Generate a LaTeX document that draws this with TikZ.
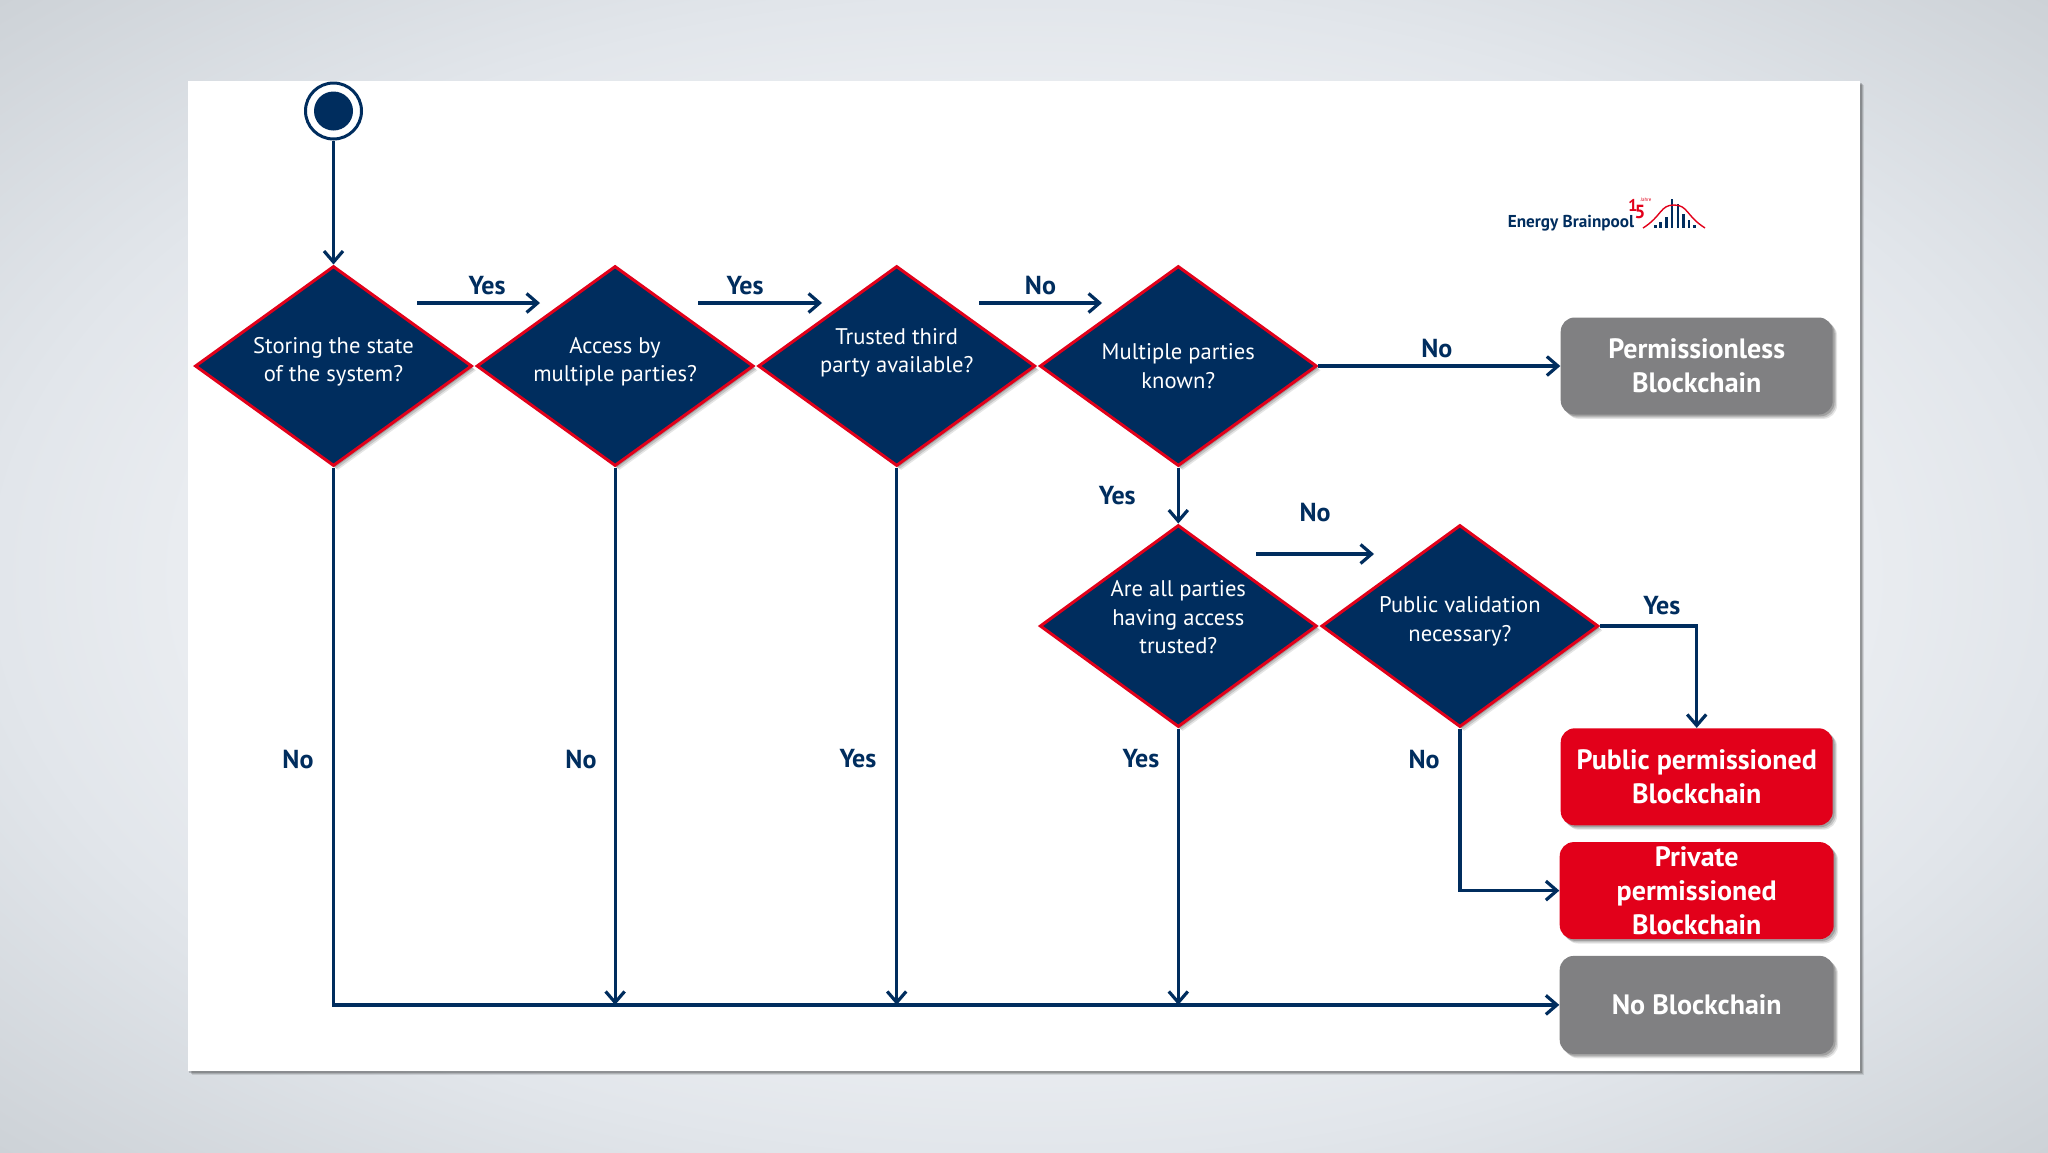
\documentclass[tikz,border=0pt]{standalone}
\usepackage{fontspec}
\setmainfont{PT Sans}
\usetikzlibrary{arrows.meta, positioning, shapes.geometric, shadows}
\definecolor{brainnavy}{RGB}{0,45,94}
\definecolor{brainred}{RGB}{226,0,26}
\definecolor{braingrey}{RGB}{128,128,130}
\definecolor{slidemid}{RGB}{246,247,249}
\definecolor{slidetop}{RGB}{226,230,235}
\definecolor{slideedge}{RGB}{205,210,215}
\pgfdeclareradialshading{slideback}{\pgfpoint{0bp}{0bp}}{color(0bp)=(slidemid); color(12.5bp)=(slidemid); color(25bp)=(slidetop); color(35.4bp)=(slideedge); color(100bp)=(slideedge)}
\newcommand{\lifted}[1]{\rule[-#1]{0pt}{#1}}

\begin{document}
\begin{tikzpicture}[
  softshadow/.style={general shadow={shadow xshift=2.2pt, shadow yshift=-2.2pt, fill=black, opacity=.1},
                     general shadow={shadow xshift=1.6pt, shadow yshift=-1.6pt, fill=black, opacity=.14},
                     general shadow={shadow xshift=.9pt, shadow yshift=-.9pt, fill=black, opacity=.18}},
  question/.style={diamond, aspect=1.385, draw=brainred, fill=brainnavy, line width=1.5pt,
                   minimum width=138.5pt, minimum height=100pt, inner sep=0pt,
                   text=white, font=\fontsize{11.3}{14.2}\selectfont, align=center, softshadow},
  result/.style={rectangle, rounded corners=7pt, minimum width=136pt, minimum height=48.5pt,
                 inner sep=0pt, text=white, align=center,
                 font=\fontsize{14}{17}\selectfont\bfseries, softshadow},
  arrow/.style={-{Straight Barb[length=5.5pt, width=9.5pt]}, brainnavy, line width=1.6pt},
  answer/.style={text=brainnavy, font=\fontsize{13}{15}\selectfont\bfseries, inner sep=0pt}
]
\useasboundingbox (0,0) rectangle (1024pt,-576pt);
\shade[shading=slideback] (0,0) rectangle (1024pt,-576pt);
\fill[white, softshadow] (93.8pt,-40.5pt) rectangle (930pt,-535.5pt);

\node[question] (store) at (166.75pt,-183pt) {Storing the state\\of the system?\lifted{6.5pt}};
\node[question, right=.8pt of store]  (access)  {Access by\\multiple parties?\lifted{6.5pt}};
\node[question, right=.8pt of access] (trusted) {Trusted third\\party available?\lifted{15.5pt}};
\node[question, right=.8pt of trusted] (known)  {Multiple parties\\known?};
\node[question, below=28pt of known, minimum height=101pt] (having)
  {Are all parties\\having access\\trusted?\lifted{9pt}};
\node[question, right=.8pt of having, minimum height=101pt] (public)
  {Public validation\\necessary?\lifted{7pt}};

\node[result, fill=braingrey, right=121pt of known] (permless) {Permissionless\\Blockchain};
\node[result, fill=brainred, below=156.5pt of permless] (pubperm) {Public permissioned\\Blockchain};
\node[result, fill=brainred, below=8pt of pubperm, minimum width=137pt] (privperm)
  {Private\\permissioned\\Blockchain};
\node[result, fill=braingrey, below=8pt of privperm, minimum width=137pt, minimum height=49pt] (noblock)
  {No Blockchain};

\node[circle, draw=brainnavy, line width=1.5pt, fill=white, minimum size=28pt, inner sep=0pt]
  (start) at (166.75pt,-55.5pt) {};
\node[circle, fill=brainnavy, minimum size=19.5pt, inner sep=0pt] (startdot) at (start) {};

\coordinate (ya) at (208.5pt,-151.5pt);
\coordinate (yb) at (270pt,-151.5pt);
\coordinate (yc) at (349pt,-151.5pt);
\coordinate (yd) at (411pt,-151.5pt);
\coordinate (na) at (489.5pt,-151.5pt);
\coordinate (nb) at (551pt,-151.5pt);
\coordinate (nc) at (628pt,-277pt);
\coordinate (nd) at (687pt,-277pt);

\draw[arrow] (start) -- (store);
\draw[arrow] (ya) -- node[answer, pos=.57, above=3.5pt] (yesa) {Yes} (yb);
\draw[arrow] (yc) -- node[answer, pos=.38, above=3.5pt] (yesb) {Yes} (yd);
\draw[arrow] (na) -- node[answer, pos=.5, above=3.5pt] (noa) {No} (nb);
\draw[arrow] (nc) -- node[answer, pos=.5, above=15.5pt] (nob) {No} (nd);
\draw[arrow] (known) -- node[answer, pos=.49, above=3.5pt] (noc) {No} (permless);
\draw[arrow] (known) -- node[answer, left=20.5pt] (yesc) {Yes} (having);
\draw[arrow] (public.east) -| node[answer, pos=.32, above=5pt] (yesd) {Yes} (pubperm.north);
\draw[arrow] (public.south) |- (privperm.west);
\draw[arrow] (store.south) |- (noblock.west);
\draw[arrow] (access.south) -- (access.south |- noblock.west);
\draw[arrow] (trusted.south) -- (trusted.south |- noblock.west);
\draw[arrow] (having.south) -- (having.south |- noblock.west);

\node[answer] (nod) at (149pt,-379.5pt) {No};
\node[answer] (noe) at (290.5pt,-379.5pt) {No};
\node[answer] (yese) at (429pt,-379.5pt) {Yes};
\node[answer] (yesf) at (570.5pt,-379.5pt) {Yes};
\node[answer] (nof) at (712pt,-379.5pt) {No};

\node[text=brainnavy, font=\fontsize{8.6}{9}\selectfont\bfseries, inner sep=0pt] (brand) at (785.5pt,-111.5pt) {Energy Brainpool};
\node[text=brainred, font=\fontsize{8.5}{9}\selectfont\bfseries, inner sep=0pt] (one) at (816.5pt,-102.5pt) {1};
\node[text=brainred, font=\fontsize{9.5}{9}\selectfont\bfseries, inner sep=0pt] (five) at (820pt,-106pt) {5};
\node[text=brainred, font=\fontsize{2.5}{3}\selectfont, inner sep=0pt] (jahre) at (823pt,-100pt) {Jahre};
\foreach \barx/\barend/\bartop in {827/828.4/-112.5, 829.6/831/-111, 832.5/833.9/-108.5, 835.3/836.7/-99.5, 838.3/839.7/-102, 841/842.4/-107, 843.8/845.2/-110, 846.6/848/-112.5}
  \fill[brainnavy] (\barx pt,-114pt) rectangle (\barend pt,\bartop pt);
\draw[brainred, line width=.7pt] (821.5pt,-114pt) .. controls (831pt,-108pt) and (830pt,-102.5pt) .. (837pt,-102.5pt)
  .. controls (844pt,-102.5pt) and (843pt,-108pt) .. (852.5pt,-114pt);
\end{tikzpicture}
\end{document}
